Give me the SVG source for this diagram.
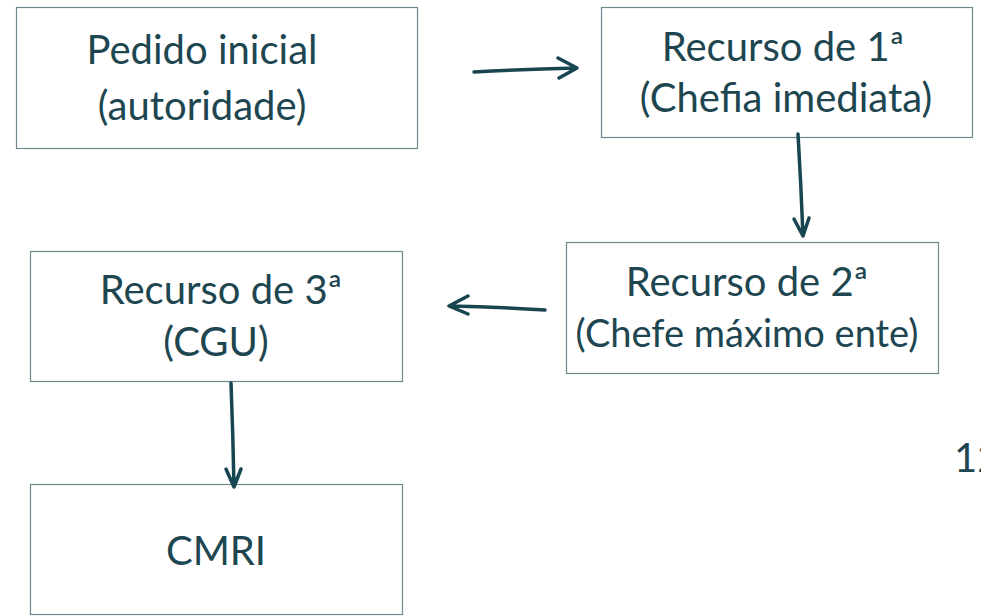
<svg xmlns="http://www.w3.org/2000/svg" width="981" height="616" viewBox="0 0 981 616">
<style>
.box{fill:#ffffff;stroke:#70898e;stroke-width:1.2}
.t{font-family:Lato,"Source Sans Pro","Noto Sans",sans-serif;font-size:40px;fill:#1d4650;text-anchor:middle}
.a{fill:none;stroke:#174550;stroke-width:3.5;stroke-linecap:round;stroke-linejoin:round}
</style>
<rect width="981" height="616" fill="#ffffff"/>
<g id="n1"><rect class="box" x="16.5" y="7.5" width="401" height="141"/>
<text class="t" x="202" y="64">Pedido inicial</text><text class="t" x="202" y="120">(autoridade)</text></g>
<g id="n2"><rect class="box" x="601.5" y="7.5" width="371" height="130"/>
<text class="t" x="783" y="61">Recurso de 1ª</text><text class="t" x="786" y="112">(Chefia imediata)</text></g>
<g id="n3"><rect class="box" x="566.5" y="242.5" width="372" height="131"/>
<text class="t" x="747" y="296">Recurso de 2ª</text><text class="t" x="747" y="347" style="font-size:38px">(Chefe máximo ente)</text></g>
<g id="n4"><rect class="box" x="30.5" y="251.5" width="372" height="130"/>
<text class="t" x="221" y="304">Recurso de 3ª</text><text class="t" x="216" y="356">(CGU)</text></g>
<g id="n5"><rect class="box" x="30.5" y="484.5" width="372" height="130"/>
<text class="t" x="216" y="565">CMRI</text></g>
<text class="t" x="954" y="472" style="text-anchor:start">12</text>
<g id="connectors">
<path class="a" d="M474 72 Q525 69 577 68 M558 58 L577 68 L559 78"/>
<path class="a" d="M798 134 Q801 185 803 236 M794 219 L803 236 L809 218"/>
<path class="a" d="M545 310 Q496 307 449 306 M468 296 L449 306 L468 314"/>
<path class="a" d="M231 383 Q233 435 234 487 M226 469 L234 487 L241 469"/>
</g>
</svg>
